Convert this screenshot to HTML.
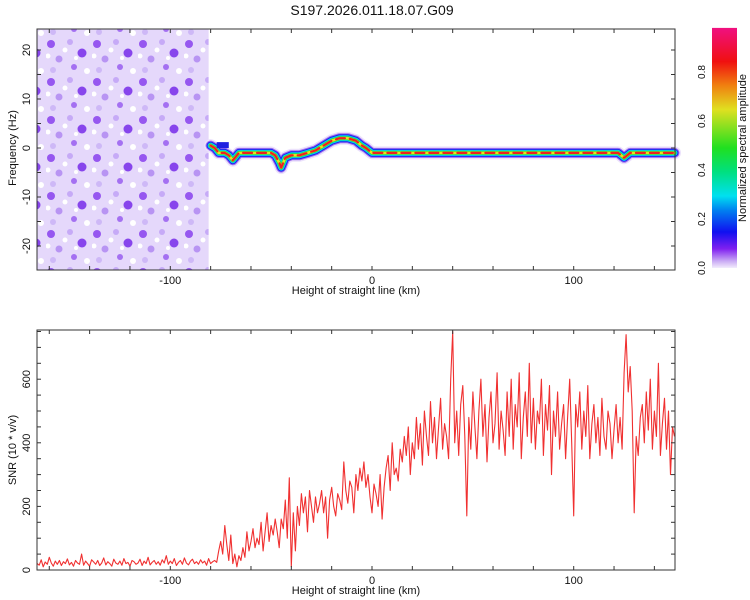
<!DOCTYPE html>
<html><head><meta charset="utf-8"><style>
body{margin:0;background:#fff;}
svg{display:block;font-family:"Liberation Sans",sans-serif;}
</style></head><body>
<svg id="chart" width="750" height="600" viewBox="0 0 750 600">
<defs>
<linearGradient id="cbar" x1="0" y1="1" x2="0" y2="0">
<stop offset="0" stop-color="#f2ecfc"/><stop offset="0.03" stop-color="#c8a8f4"/>
<stop offset="0.08" stop-color="#8020f0"/><stop offset="0.15" stop-color="#1010f0"/>
<stop offset="0.24" stop-color="#0080f0"/><stop offset="0.3" stop-color="#00e0f0"/>
<stop offset="0.4" stop-color="#00e080"/><stop offset="0.5" stop-color="#20e020"/>
<stop offset="0.66" stop-color="#e0e020"/><stop offset="0.76" stop-color="#f08010"/>
<stop offset="0.86" stop-color="#f01010"/><stop offset="1" stop-color="#f01080"/>
</linearGradient>
<pattern id="noise" width="46" height="38" patternUnits="userSpaceOnUse">
<rect width="46" height="38" fill="#e2d4fa"/>
<circle cx="5" cy="6" r="4" fill="#8a44ee"/><circle cx="24" cy="4" r="3" fill="#c0a0f6"/>
<circle cx="36" cy="15" r="4.5" fill="#7a30ea"/><circle cx="13" cy="21" r="3.5" fill="#b088f2"/>
<circle cx="28" cy="29" r="3" fill="#9a60f0"/><circle cx="7" cy="32" r="3" fill="#c8b0f6"/>
<circle cx="19" cy="12" r="2.5" fill="#fff"/><circle cx="41" cy="33" r="3" fill="#fff"/>
<circle cx="2" cy="18" r="2.5" fill="#fff"/><circle cx="30" cy="20" r="2" fill="#fff"/>
</pattern>
</defs>
<text x="372" y="15" text-anchor="middle" font-size="14" fill="#111">S197.2026.011.18.07.G09</text>
<g id="topPanel"></g>
<g id="botPanel"></g>
<g id="cbPanel"></g>
</svg>
<script>
const snrStartKm = -166;
const snrValues = [
20,15,32,10,25,18,40,22,12,28,
18,30,14,26,20,35,16,24,12,30,
22,18,50,15,28,20,12,32,25,18,
30,14,22,38,16,26,20,12,34,22,
18,28,15,36,20,24,12,30,26,18,
22,34,14,28,20,40,16,24,30,18,
26,15,32,22,45,18,28,20,36,14,
24,30,18,38,22,16,28,34,20,26,
18,32,22,28,15,36,20,26,30,24,
60,90,50,140,80,30,110,20,50,10,
45,30,70,40,120,60,90,130,70,100,
80,150,60,120,180,90,140,110,160,120,
70,160,130,220,100,290,10,180,60,200,
140,240,180,230,120,250,200,150,230,180,
210,250,180,230,100,220,260,200,170,240,
220,190,340,250,210,280,260,180,300,250,
320,280,340,260,300,230,180,270,240,200,
300,160,260,320,360,250,400,300,320,280,
380,340,420,360,450,300,400,350,480,380,
460,330,500,420,360,530,400,480,350,450,
540,380,460,420,350,600,750,400,500,360,
520,580,420,170,480,380,560,450,350,500,
600,420,520,340,480,560,400,460,620,380,
500,440,360,560,420,600,380,520,450,620,
350,480,560,420,650,400,540,380,500,460,
600,360,520,440,580,300,500,420,560,380,
460,520,350,480,600,400,170,520,450,560,
380,500,420,580,350,460,520,400,480,360,
540,420,380,500,460,350,440,520,400,480,
380,620,740,560,640,500,180,420,360,480,
520,400,560,440,600,380,500,420,650,360,
460,540,380,500,300,450,420];
const trackKm = [-80,-78,-76,-73,-71,-69,-66,-62,-56,-50,-48,-46,-45,-43,-40,-36,-32,-28,-24,-20,-16,-12,-8,-5,-3,0,10,40,70,100,122,125,128,150];
const trackHz = [0.5,0,-1,-1,-1.5,-2.5,-1,-1,-1,-1,-1.5,-3,-4,-2,-1.5,-1.5,-1,-0.5,0.5,1.5,2,2,1.5,0.5,0,-1,-1,-1,-1,-1,-1,-2,-1,-1];
const xTicks = [-100,0,100];
const hzTicks = [-20,-10,0,10,20];
const snrTicks = [0,200,400,600];
const cbTicks = [0.0,0.2,0.4,0.6,0.8];

const NS='http://www.w3.org/2000/svg';
function mk(p,t,a){const e=document.createElementNS(NS,t);for(const k in a)e.setAttribute(k,a[k]);p.appendChild(e);return e;}
const L=37,R=675;
const X=km=>372+km*2.017;
const Y1=f=>148-f*4.9;
const Y2=v=>570-v*0.318;
const topG=document.getElementById('topPanel'),botG=document.getElementById('botPanel'),cbG=document.getElementById('cbPanel');

const nz=mk(topG,'rect',{x:L,y:29,width:X(-81)-L,height:241,fill:'url(#noise)',opacity:0.9});


const pts=trackKm.map((k,i)=>X(k).toFixed(1)+','+Y1(trackHz[i]).toFixed(1)).join(' ');
const layers=[[13,'#ece2fc'],[10,'#a070f0'],[8,'#2020f0'],[6,'#00d0f0'],[4,'#20e040'],[2.6,'#e8e020'],[2.2,'#f02020']];
layers.forEach((l,i)=>{const p=mk(topG,'polyline',{points:pts,fill:'none',stroke:l[1],'stroke-width':l[0],'stroke-linejoin':'round','stroke-linecap':'round'});
if(i===layers.length-1)p.setAttribute('stroke-dasharray','9 5');

});
const bb=mk(topG,'rect',{x:X(-77),y:Y1(1.2),width:X(-71)-X(-77),height:6,fill:'#2020e0'});



function frame(g,y0,y1,ytMinor,Yf,labels,yTitle,yTitleY){
  mk(g,'rect',{x:L,y:y0,width:R-L,height:y1-y0,fill:'none',stroke:'#333','stroke-width':1});
  for(let k=-160;k<=150;k+=20){const x=X(k);mk(g,'line',{x1:x,y1:y1,x2:x,y2:y1-4,stroke:'#333'});mk(g,'line',{x1:x,y1:y0,x2:x,y2:y0+4,stroke:'#333'});}
  xTicks.forEach(k=>{const t=mk(g,'text',{x:X(k),y:y1+14,'text-anchor':'middle','font-size':11,fill:'#111'});t.textContent=k;
  
  });
  const xt=mk(g,'text',{x:356,y:y1+24,'text-anchor':'middle','font-size':11,fill:'#111'});xt.textContent='Height of straight line (km)';
  
  
  ytMinor.forEach(v=>{const y=Yf(v);mk(g,'line',{x1:L,y1:y,x2:L+4,y2:y,stroke:'#333'});mk(g,'line',{x1:R,y1:y,x2:R-4,y2:y,stroke:'#333'});});
  labels.forEach(v=>{const y=Yf(v);const t=mk(g,'text',{x:0,y:0,'text-anchor':'middle','font-size':11,fill:'#111',transform:`translate(30,${y}) rotate(-90)`});t.textContent=v;
  
  });
  const yt2=mk(g,'text',{x:0,y:0,'text-anchor':'middle','font-size':11,fill:'#111',transform:`translate(16,${yTitleY}) rotate(-90)`});yt2.textContent=yTitle;
  
  
}
const hzMinor=[];for(let f=-20;f<=20;f+=5)hzMinor.push(f);
frame(topG,29,270,hzMinor,Y1,hzTicks,'Frequency (Hz)',148);

const sp=snrValues.map((v,i)=>X(snrStartKm+i).toFixed(1)+','+Y2(v).toFixed(1)).join(' ');
const sl=mk(botG,'polyline',{points:sp,fill:'none',stroke:'#f03030','stroke-width':1.1,'stroke-linejoin':'round'});


const snrMinor=[];for(let v=0;v<=750;v+=50)snrMinor.push(v);
frame(botG,330,570,snrMinor,Y2,snrTicks,'SNR (10 * v/v)',450);

const cbY=v=>268-v*245;
const cr=mk(cbG,'rect',{x:712,y:cbY(0.98),width:25,height:cbY(0)-cbY(0.98),fill:'url(#cbar)'});


cbTicks.forEach(v=>{const t=mk(cbG,'text',{x:0,y:0,'text-anchor':'middle','font-size':10,fill:'#111',transform:`translate(705,${cbY(v)}) rotate(-90)`});t.textContent=v.toFixed(1);

});
const ct=mk(cbG,'text',{x:0,y:0,'text-anchor':'middle','font-size':11,fill:'#111',transform:'translate(746,148) rotate(-90)'});ct.textContent='Normalized spectral amplitude';


</script>
</body></html>
